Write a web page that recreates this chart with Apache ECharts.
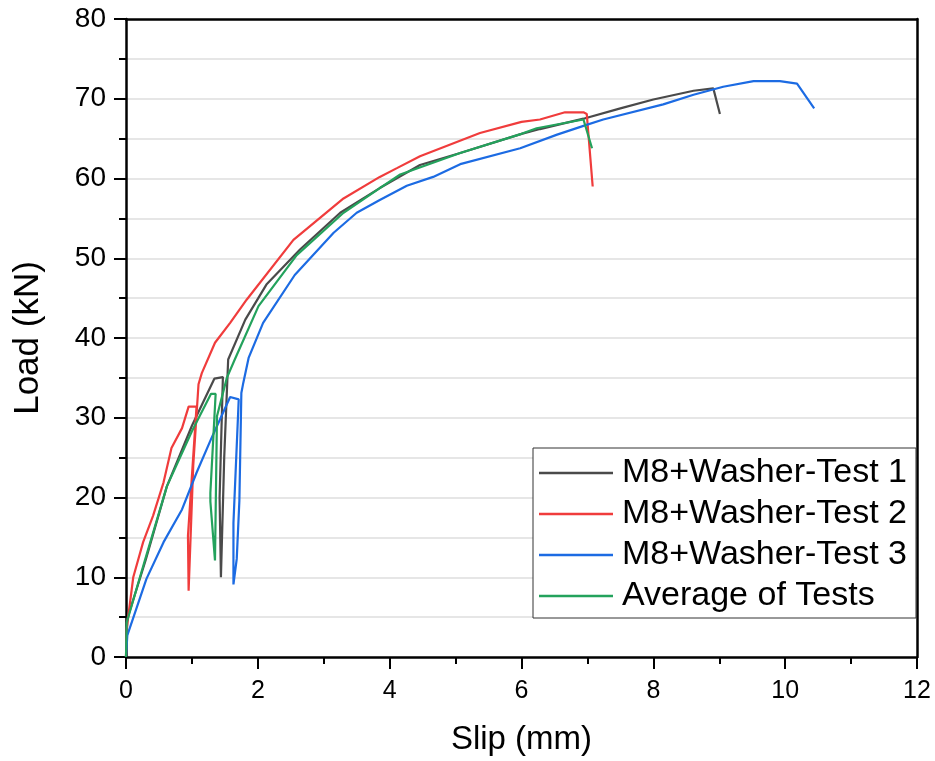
<!DOCTYPE html>
<html>
<head>
<meta charset="utf-8">
<title>Load-slip curves</title>
<script src="https://cdn.jsdelivr.net/npm/echarts@6/dist/echarts.min.js"></script>
<style>
  html, body { margin: 0; padding: 0; background: #fff; }
  #chart { width: 935px; height: 761px; }
</style>
</head>
<body>
<div id="chart"></div>
<script>
// series names and [slip (mm), load (kN)] points
const seriesNames = ['M8+Washer-Test 1', 'M8+Washer-Test 2', 'M8+Washer-Test 3', 'Average of Tests'];
const seriesColors = ['#4a4a4a', '#f03c3c', '#1c6be3', '#23a25c'];

const test1 = [
  [0, 0], [0.02, 4.8], [0.3, 12.2], [0.62, 21.4], [1.0, 29.0], [1.34, 34.9], [1.47, 35.1],
  [1.42, 20.0], [1.44, 10.0], [1.49, 25.0], [1.55, 37.3], [1.81, 42.3], [2.13, 46.7],
  [2.64, 51.1], [3.25, 55.7], [3.85, 58.8], [4.46, 61.7], [5.07, 63.2], [6.0, 65.6],
  [6.28, 66.2], [6.94, 67.5], [7.5, 68.8], [8.0, 69.9], [8.61, 71.0], [8.91, 71.3], [9.01, 68.1]
];
const test2 = [
  [0, 0], [0.01, 3.5], [0.11, 10.0], [0.26, 14.4], [0.41, 17.7], [0.57, 21.9], [0.69, 26.2],
  [0.85, 28.7], [0.95, 31.4], [1.07, 31.4], [0.94, 15.2], [0.95, 8.3], [1.02, 24.0],
  [1.10, 34.2], [1.15, 35.6], [1.35, 39.4], [1.58, 41.9], [1.83, 44.8], [2.54, 52.3],
  [3.30, 57.5], [3.85, 60.2], [4.11, 61.3], [4.46, 62.8], [5.37, 65.7], [6.0, 67.1],
  [6.28, 67.4], [6.66, 68.3], [6.94, 68.3], [6.99, 68.1], [7.08, 59.0]
];
const test3 = [
  [0, 0], [0.02, 2.7], [0.31, 9.8], [0.57, 14.4], [0.85, 18.5], [1.07, 23.1], [1.3, 27.5],
  [1.58, 32.6], [1.71, 32.3], [1.63, 16.8], [1.63, 9.1], [1.68, 12.3], [1.72, 19.6],
  [1.75, 33.1], [1.78, 34.4], [1.86, 37.5], [2.08, 41.9], [2.56, 47.9], [3.15, 53.2],
  [3.50, 55.7], [3.85, 57.3], [4.26, 59.1], [4.66, 60.2], [5.07, 61.8], [5.98, 63.8],
  [6.54, 65.5], [6.94, 66.6], [7.24, 67.4], [8.15, 69.3], [8.61, 70.5], [9.06, 71.5],
  [9.52, 72.2], [9.92, 72.2], [10.18, 71.9], [10.44, 68.8]
];
const average = [
  [0, 0], [0.01, 4.3], [0.3, 12.5], [0.62, 21.4], [1.0, 28.3], [1.29, 33.0], [1.36, 33.0],
  [1.28, 20.6], [1.28, 19.5], [1.35, 12.1], [1.38, 30.2], [1.53, 35.0], [1.65, 37.3],
  [2.01, 44.0], [2.59, 50.4], [3.30, 55.7], [3.85, 58.8], [4.16, 60.5], [5.07, 63.2],
  [6.0, 65.6], [6.23, 66.3], [6.94, 67.4], [7.07, 63.8]
];

const font = "'Liberation Sans', Arial, sans-serif";
const chart = echarts.init(document.getElementById('chart'));

const seriesList = [test1, test2, test3, average].map((pts, i) => ({
  name: seriesNames[i],
  type: 'line',
  data: pts,
  symbol: 'none',
  color: seriesColors[i],
  lineStyle: { width: 2.2, color: seriesColors[i] },
  z: 3
}));

// frame lines on top and right
const frameAxis = { show: true, axisLine: { onZero: false, lineStyle: { color: '#000', width: 2.5 } },
  axisTick: { show: false }, axisLabel: { show: false }, splitLine: { show: false } };

const option = {
  backgroundColor: '#fff',
  animation: false,
  grid: { left: 126, right: 18, top: 19, bottom: 103 },
  legend: {
    data: seriesNames,
    orient: 'vertical',
    left: 533,
    top: 448,
    icon: 'rect',
    itemWidth: 74,
    itemHeight: 2.5,
    itemGap: 7,
    padding: [8, 9, 5, 6],
    borderColor: '#333',
    borderWidth: 1,
    backgroundColor: '#fff',
    textStyle: { fontFamily: font, fontSize: 34, color: '#000', padding: [0, 0, 0, 4] }
  },
  xAxis: [{
    type: 'value',
    min: 0, max: 12, interval: 2,
    name: 'Slip (mm)',
    nameLocation: 'middle',
    nameGap: 66,
    nameTextStyle: { fontFamily: font, fontSize: 33, color: '#000' },
    axisLine: { lineStyle: { color: '#000', width: 2.5 } },
    axisTick: { length: 12, lineStyle: { color: '#000', width: 2 } },
    minorTick: { show: true, splitNumber: 2, length: 7, lineStyle: { color: '#000', width: 2 } },
    axisLabel: { fontFamily: font, fontSize: 25, color: '#000', margin: 22 },
    splitLine: { show: false }
  }, Object.assign({ type: 'value', position: 'top', min: 0, max: 12 }, frameAxis)],
  yAxis: [{
    type: 'value',
    min: 0, max: 80, interval: 10,
    name: 'Load (kN)',
    nameLocation: 'middle',
    nameGap: 80,
    nameTextStyle: { fontFamily: font, fontSize: 35, color: '#000' },
    axisLine: { lineStyle: { color: '#000', width: 2.5 } },
    axisTick: { length: 12, lineStyle: { color: '#000', width: 2 } },
    minorTick: { show: true, splitNumber: 2, length: 7, lineStyle: { color: '#000', width: 2 } },
    axisLabel: { fontFamily: font, fontSize: 28, color: '#000', margin: 20 },
    splitLine: { show: true, showMinLine: false, showMaxLine: false, lineStyle: { color: '#dedede', width: 1.5 } },
    minorSplitLine: { show: true, lineStyle: { color: '#dedede', width: 1.5 } }
  }, Object.assign({ type: 'value', position: 'right', min: 0, max: 80 }, frameAxis)],
  series: seriesList
};

chart.setOption(option);
</script>
</body>
</html>
